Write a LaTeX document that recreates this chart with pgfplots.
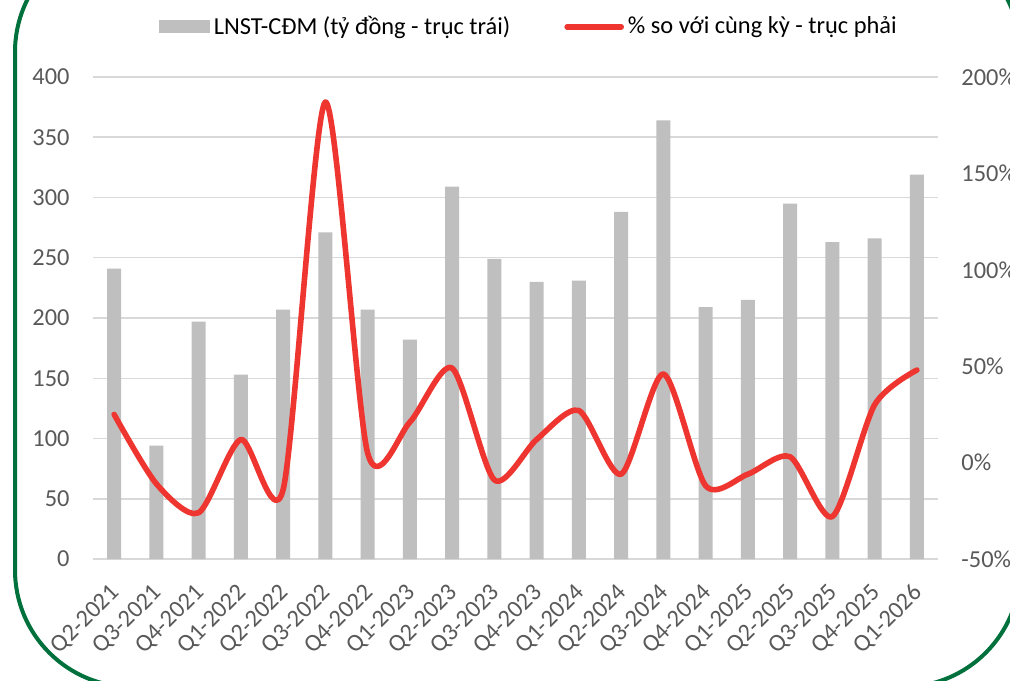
\documentclass[border=0pt]{standalone}
\usepackage{fontspec}
\setmainfont{Carlito}
\usepackage{pgfplots}
\pgfplotsset{compat=1.18}
\definecolor{barg}{HTML}{BFBFBF}
\definecolor{redl}{HTML}{EE3530}
\definecolor{gridc}{HTML}{D9D9D9}
\definecolor{txt}{HTML}{595959}
\definecolor{frame}{HTML}{00703C}
\newcommand{\tfont}{\fontsize{12.2}{14}\selectfont}
\begin{document}
\begin{tikzpicture}[x=1pt,y=1pt]
\path[use as bounding box] (0,0) rectangle (505,340);
\begin{scope}
\clip (0,0) rectangle (505,340);
\draw[frame, line width=2pt, rounded corners=58.5pt] (7.5,-3.5) rectangle (510,372.5);
\end{scope}
\begin{axis}[at={(46.5pt,60.5pt)}, anchor=south west, scale only axis,
  width=422.5pt, height=241pt,
  xmin=-0.5, xmax=19.5, ymin=0, ymax=400,
  ytick={0,50,...,400},
  yticklabels={0,50,100,150,200,250,300,350,400},
  xtick={0,...,19},
  xticklabels={Q2-2021,Q3-2021,Q4-2021,Q1-2022,Q2-2022,Q3-2022,Q4-2022,Q1-2023,Q2-2023,Q3-2023,Q4-2023,Q1-2024,Q2-2024,Q3-2024,Q4-2024,Q1-2025,Q2-2025,Q3-2025,Q4-2025,Q1-2026},
  axis line style={draw=none}, major tick length=0,
  ymajorgrids, grid style={gridc, line width=0.75pt},
  tick label style={font=\tfont, text=txt},
  yticklabel style={inner sep=0pt, anchor=east, xshift=-11.5pt},
  xticklabel style={inner sep=0pt, xshift=1pt, yshift=-15pt, rotate=45, anchor=east},
]
\addplot[ybar, bar width=7pt, fill=barg, draw=none] table {
x y
0 241
1 94
2 197
3 153
4 207
5 271
6 207
7 182
8 309
9 249
10 230
11 231
12 288
13 364
14 209
15 215
16 295
17 263
18 266
19 319
};
\end{axis}
\begin{axis}[at={(46.5pt,60.5pt)}, anchor=south west, scale only axis,
  width=422.5pt, height=241pt,
  xmin=-0.5, xmax=19.5, ymin=-50, ymax=200,
  axis x line=none, axis y line*=right,
  ytick={-50,0,50,100,150,200},
  yticklabels={-50\%,0\%,50\%,100\%,150\%,200\%},
  axis line style={draw=none}, major tick length=0,
  tick label style={font=\tfont, text=txt},
  yticklabel style={inner sep=0pt, anchor=west, xshift=11.5pt},
  clip=false,
  legend columns=2,
  legend style={at={(0.517,1.104)}, anchor=center, draw=none, fill=none, font=\tfont,
    /tikz/every even column/.append style={column sep=25pt}},
  legend cell align=left,
]
\addlegendimage{legend image code/.code={\fill[barg] (0pt,-3pt) rectangle (25pt,3pt);}}
\addlegendentry{LNST-CĐM (tỷ đồng - trục trái)}
\addplot[redl, line width=2.8pt, smooth, tension=0.45, line cap=round, line join=round,
  legend image code/.code={\draw[redl, line width=2.8pt, line cap=round] (0pt,0pt) -- (27pt,0pt);}] table {
x y
0 25
1 -11
2 -26
3 12
4 -14
5 187
6 5
7 21
8 49
9 -9
10 12
11 27
12 -6
13 46
14 -12
15 -6
16 3
17 -28
18 30
19 48
};
\addlegendentry{\% so với cùng kỳ - trục phải}
\end{axis}
\end{tikzpicture}
\end{document}
